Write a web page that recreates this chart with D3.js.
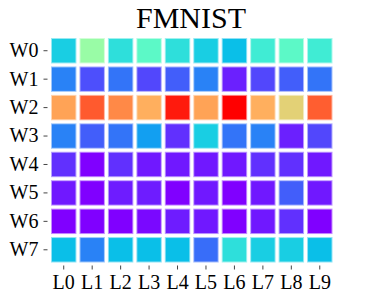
<html>
<head>
<script src="https://d3js.org/d3.v7.min.js"></script>
<style>
  body { margin: 0; background: #fff; }
  text { font-family: "Liberation Serif", "DejaVu Serif", serif; }
</style>
</head>
<body>
<svg id="chart" width="374" height="299"></svg>
<script>
// column / row labels
let cols = ["L0", "L1", "L2", "L3", "L4", "L5", "L6", "L7", "L8", "L9"]
let rows = ["W0", "W1", "W2", "W3", "W4", "W5", "W6", "W7"]

// cell values (0..1), one array per row
let w0 = [0.30, 0.55, 0.34, 0.43, 0.34, 0.30, 0.27, 0.375, 0.43, 0.375]
let w1 = [0.17, 0.10, 0.15, 0.09, 0.12, 0.17, 0.04, 0.09, 0.12, 0.15]
let w2 = [0.78, 0.885, 0.82, 0.76, 0.967, 0.78, 1.0, 0.76, 0.695, 0.88]
let w3 = [0.17, 0.12, 0.15, 0.215, 0.06, 0.30, 0.15, 0.17, 0.04, 0.09]
let w4 = [0.06, 0.0, 0.06, 0.03, 0.03, 0.03, 0.03, 0.06, 0.06, 0.03]
let w5 = [0.03, 0.0, 0.035, 0.035, 0.0, 0.03, 0.0, 0.03, 0.12, 0.03]
let w6 = [0.0, 0.0, 0.0, 0.01, 0.035, 0.03, 0.0, 0.03, 0.06, 0.0]
let w7 = [0.27, 0.17, 0.27, 0.27, 0.27, 0.14, 0.34, 0.30, 0.30, 0.27]
let values = [w0, w1, w2, w3, w4, w5, w6, w7]

let svg = d3.select("#chart")

// matplotlib-style "rainbow" colormap
function rainbow(t) {
    let clip = v => Math.max(0, Math.min(1, v))
    let r = clip(Math.abs(2 * t - 0.5))
    let g = clip(Math.sin(t * Math.PI))
    let b = clip(Math.cos(t * Math.PI / 2))
    return d3.rgb(r * 255, g * 255, b * 255).toString()
}
let color = d3.scaleSequential(rainbow).domain([0, 1])

let x = d3.scaleBand().domain(cols).range([49.5, 334])
let y = d3.scaleBand().domain(rows).range([36.5, 264])

let cells = []
rows.forEach((r, i) => cols.forEach((c, j) => cells.push({row: r, col: c, v: values[i][j]})))

let inset = 1.5
svg.append("g")
    .selectAll("rect")
    .data(cells)
    .enter()
    .append("rect")
        .attr("x", d => x(d.col) + inset)
        .attr("y", d => y(d.row) + inset)
        .attr("width", x.bandwidth() - 2 * inset)
        .attr("height", y.bandwidth() - 2 * inset)
        .attr("fill", d => color(d.v))
        .attr("stroke", "white")
        .attr("stroke-opacity", 0.55)
        .attr("stroke-width", 2)

// axes
let xAxis = svg.append("g")
    .attr("transform", "translate(0,265.5)")
    .call(d3.axisBottom(x).tickSize(4).tickPadding(5))
let yAxis = svg.append("g")
    .attr("transform", "translate(47.5,0)")
    .call(d3.axisLeft(y).tickSize(4).tickPadding(5))

for (let ax of [xAxis, yAxis]) {
    ax.select(".domain").remove()
    ax.selectAll("line").attr("stroke", "#444")
    ax.selectAll("text")
        .attr("fill", "#000")
        .style("font-size", "20px")
        .style("font-family", "'Liberation Serif', serif")
}

// title
svg.append("text")
    .attr("x", 191)
    .attr("y", 28)
    .attr("text-anchor", "middle")
    .style("font-size", "30px")
    .attr("fill", "#000")
    .text("FMNIST")
</script>
</body>
</html>
